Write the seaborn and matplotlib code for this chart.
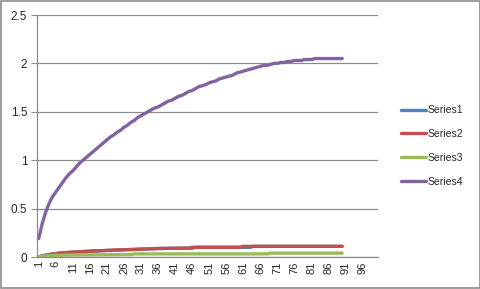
import matplotlib
matplotlib.use("Agg")
import matplotlib.pyplot as plt
import numpy as np
import pandas as pd
import seaborn as sns
from matplotlib.patches import Rectangle

# Values (categories 1..90, axis runs to 100)
categories = list(range(1, 91))

series1 = [0.000, 0.010, 0.018, 0.025, 0.030, 0.035, 0.039, 0.042, 0.045, 0.048,
           0.050, 0.052, 0.054, 0.056, 0.058, 0.060, 0.062, 0.063, 0.065, 0.066,
           0.068, 0.069, 0.071, 0.072, 0.073, 0.075, 0.076, 0.077, 0.078, 0.080,
           0.081, 0.082, 0.083, 0.085, 0.086, 0.088, 0.088, 0.089, 0.089, 0.090,
           0.090, 0.090, 0.091, 0.091, 0.091, 0.091, 0.100, 0.100, 0.100, 0.100,
           0.100, 0.100, 0.100, 0.100, 0.100, 0.100, 0.100, 0.100, 0.100, 0.100,
           0.100, 0.100, 0.100, 0.110, 0.110, 0.110, 0.110, 0.110, 0.110, 0.110,
           0.110, 0.110, 0.110, 0.110, 0.110, 0.110, 0.110, 0.110, 0.110, 0.110,
           0.110, 0.110, 0.110, 0.110, 0.110, 0.110, 0.110, 0.110, 0.110, 0.110]

series2 = [0.000, 0.010, 0.018, 0.025, 0.030, 0.035, 0.039, 0.042, 0.045, 0.048,
           0.050, 0.052, 0.054, 0.056, 0.058, 0.060, 0.062, 0.063, 0.065, 0.066,
           0.068, 0.069, 0.071, 0.072, 0.073, 0.075, 0.076, 0.077, 0.078, 0.080,
           0.081, 0.082, 0.083, 0.085, 0.086, 0.088, 0.088, 0.089, 0.089, 0.090,
           0.090, 0.090, 0.091, 0.091, 0.091, 0.100, 0.100, 0.100, 0.100, 0.100,
           0.100, 0.100, 0.100, 0.100, 0.100, 0.100, 0.100, 0.100, 0.100, 0.100,
           0.110, 0.110, 0.110, 0.110, 0.110, 0.110, 0.110, 0.110, 0.110, 0.110,
           0.110, 0.110, 0.110, 0.110, 0.110, 0.110, 0.110, 0.110, 0.110, 0.110,
           0.110, 0.110, 0.110, 0.110, 0.110, 0.110, 0.110, 0.110, 0.110, 0.110]

series3 = [0.000, 0.006, 0.010, 0.013, 0.015, 0.017, 0.018, 0.019, 0.020, 0.020,
           0.021, 0.021, 0.021, 0.022, 0.022, 0.022, 0.022, 0.023, 0.023, 0.023,
           0.023, 0.024, 0.024, 0.024, 0.024, 0.025, 0.025, 0.025, 0.032, 0.032,
           0.032, 0.032, 0.032, 0.032, 0.032, 0.032, 0.032, 0.032, 0.032, 0.032,
           0.032, 0.032, 0.032, 0.032, 0.032, 0.032, 0.032, 0.032, 0.032, 0.032,
           0.032, 0.032, 0.032, 0.032, 0.032, 0.032, 0.032, 0.032, 0.032, 0.032,
           0.032, 0.032, 0.032, 0.032, 0.032, 0.032, 0.032, 0.032, 0.040, 0.040,
           0.040, 0.040, 0.040, 0.040, 0.040, 0.040, 0.040, 0.040, 0.040, 0.040,
           0.040, 0.040, 0.040, 0.040, 0.040, 0.040, 0.040, 0.040, 0.040, 0.040]

series4 = [0.19, 0.34, 0.46, 0.55, 0.62, 0.67, 0.72, 0.77, 0.82, 0.86,
           0.89, 0.93, 0.97, 1.00, 1.03, 1.06, 1.09, 1.12, 1.15, 1.18,
           1.21, 1.24, 1.26, 1.29, 1.31, 1.34, 1.36, 1.39, 1.41, 1.44,
           1.46, 1.48, 1.50, 1.52, 1.54, 1.55, 1.57, 1.59, 1.61, 1.62,
           1.64, 1.66, 1.67, 1.69, 1.71, 1.72, 1.74, 1.76, 1.77, 1.78,
           1.80, 1.81, 1.82, 1.84, 1.85, 1.86, 1.87, 1.88, 1.90, 1.91,
           1.92, 1.93, 1.94, 1.95, 1.96, 1.97, 1.98, 1.98, 1.99, 2.00,
           2.00, 2.01, 2.01, 2.02, 2.02, 2.03, 2.03, 2.03, 2.04, 2.04,
           2.04, 2.05, 2.05, 2.05, 2.05, 2.05, 2.05, 2.05, 2.05, 2.05]

series_names = ["Series1", "Series2", "Series3", "Series4"]
colors = ["#4F81BD", "#C0504D", "#9BBB59", "#8064A2"]
n_categories = 100
x_tick_labels = [str(i) for i in range(1, n_categories + 1, 5)]
y_ticks = [0, 0.5, 1, 1.5, 2, 2.5]

df = pd.DataFrame({"category": categories, "Series1": series1, "Series2": series2,
                   "Series3": series3, "Series4": series4})
long_df = df.melt(id_vars="category", var_name="series", value_name="value")

sns.set_style("white")
plt.rcParams["font.family"] = ["Liberation Sans", "DejaVu Sans"]

fig = plt.figure(figsize=(4.81, 2.89), dpi=100)
ax = fig.add_axes([37 / 481, 32 / 289, 341 / 481, 242 / 289])

sns.lineplot(data=long_df, x="category", y="value", hue="series",
             hue_order=series_names, palette=colors, linewidth=2.4, ax=ax,
             legend=True)

ax.set_xlim(0.5, n_categories + 0.5)
ax.set_ylim(0, 2.5)
ax.set_yticks(y_ticks)
ax.set_yticklabels(["0", "0.5", "1", "1.5", "2", "2.5"], fontsize=8.5)
ax.yaxis.grid(True, color="#8c8c8c", linewidth=0.9)
ax.set_axisbelow(True)

ax.set_xticks(range(1, n_categories + 1, 5))
ax.set_xticklabels(x_tick_labels, rotation=90, fontsize=8)
ax.set_xticks(np.arange(0.5, n_categories + 1, 1), minor=True)
ax.tick_params(axis="x", which="major", length=0, pad=3)
ax.tick_params(axis="x", which="minor", length=4, color="#8c8c8c", width=0.8)
ax.tick_params(axis="y", which="major", length=4, color="#8c8c8c", width=0.8, pad=3, left=True)
ax.set_xlabel("")
ax.set_ylabel("")

for side in ["top", "right"]:
    ax.spines[side].set_visible(False)
for side in ["left", "bottom"]:
    ax.spines[side].set_color("#8c8c8c")
    ax.spines[side].set_linewidth(0.9)

handles, labels = ax.get_legend_handles_labels()
ax.legend(handles, labels, loc="upper left", bbox_to_anchor=(397 / 481, 188 / 289),
          bbox_transform=fig.transFigure, frameon=False, fontsize=7.5,
          handlelength=2.4, handletextpad=0.1, labelspacing=1.33, borderaxespad=0)

fig.patches.append(Rectangle((0.002, 0.003), 0.996, 0.994, transform=fig.transFigure,
                             fill=False, edgecolor="#8c8c8c", linewidth=1.2))

fig.savefig("out.png", dpi=100)
